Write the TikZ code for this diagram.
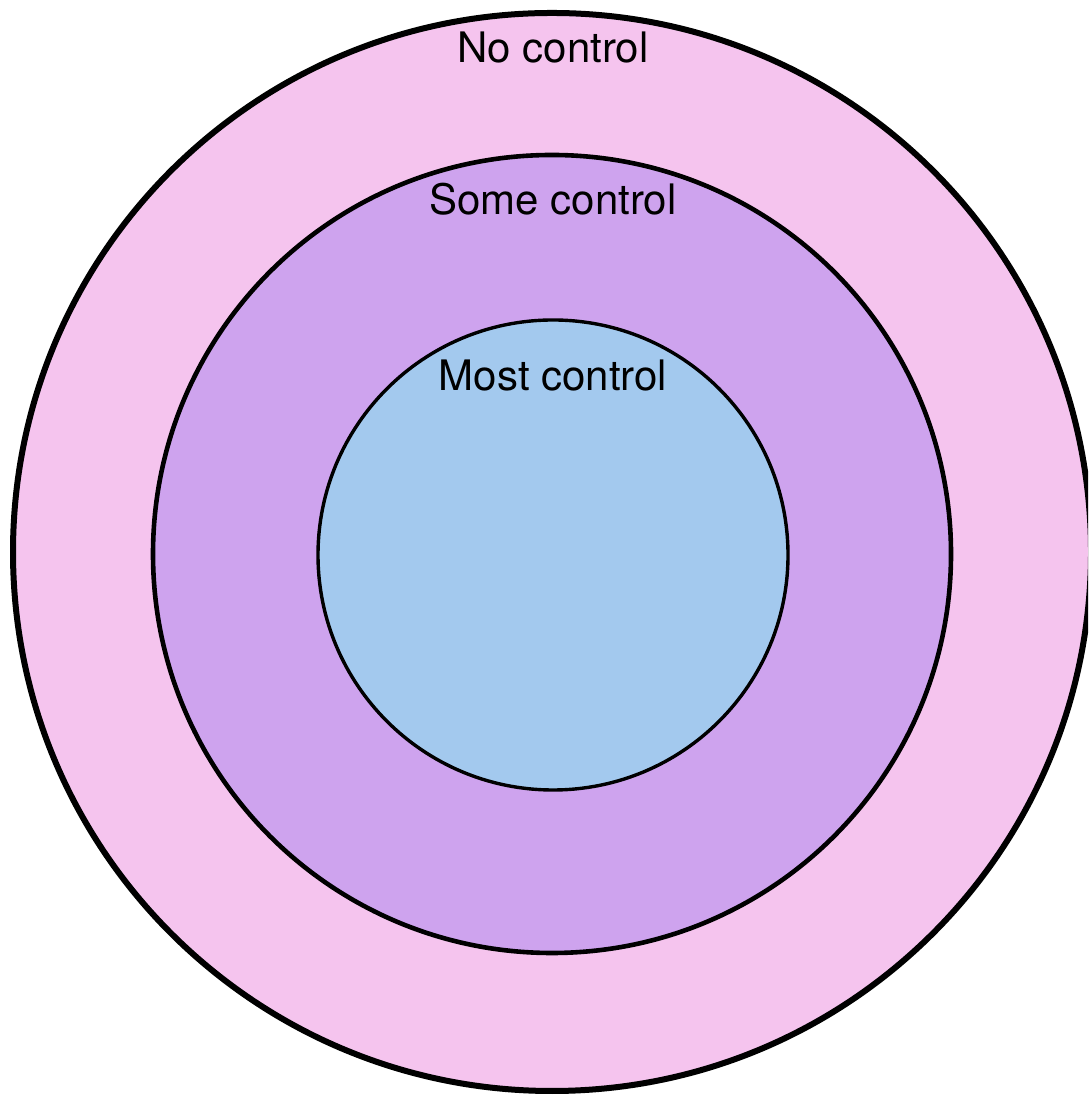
\documentclass[tikz,border=0pt]{standalone}
\usepackage{fontspec}
\setmainfont{TeX Gyre Heros}
\usetikzlibrary{positioning}
\definecolor{ringpink}{HTML}{F5C4EE}
\definecolor{ringlilac}{HTML}{CEA3EE}
\definecolor{ringblue}{HTML}{A3C9EE}
\tikzset{
  ring/.style={draw=black, circle, inner sep=0pt},
  lbl/.style={font=\fontsize{21}{25}\selectfont, anchor=base, inner sep=0pt},
}
\begin{document}
\begin{tikzpicture}[x=0.5pt, y=0.5pt]
  \useasboundingbox (0,0) rectangle (1088,1095);
  \clip (0,0) rectangle (1088,1095);
  % rings, outside in
  \node[ring, fill=ringpink, line width=3pt, minimum size=1078*0.5pt] (none) at (552,543) {};
  \node[ring, fill=ringlilac, line width=2.3pt, minimum size=798*0.5pt] (some) at (552,541) {};
  \node[ring, fill=ringblue, line width=1.7pt, minimum size=470*0.5pt] (most) at (553,540) {};
  % labels
  \node[lbl] (nonetext) at (553,1032) {No control};
  \node[lbl] (sometext) at (553,880) {Some control};
  \node[lbl] (mosttext) at (553,704) {Most control};
\end{tikzpicture}
\end{document}
